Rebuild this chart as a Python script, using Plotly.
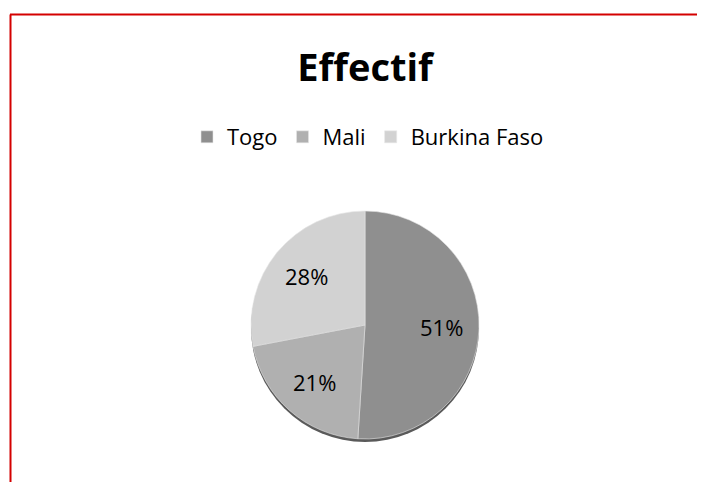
import math
import plotly.graph_objects as go

labels = ["Togo", "Mali", "Burkina Faso"]
values = [51, 21, 28]
colors = ["#8f8f8f", "#b0b0b0", "#d2d2d2"]

OFF = 8  # page body margin
W, H = 705, 482 - OFF
FONT = "Open Sans, Lato, sans-serif"

def px(x):
    return (x - OFF) / W

def py(y):
    return 1 - (y - OFF) / H

cx, cy, r = 365, 325, 114

fig = go.Figure()
# subtle shadow below the pie
fig.add_trace(go.Pie(
    labels=["s"], values=[1], marker=dict(colors=["#5a5a5a"], line=dict(width=0)),
    textinfo="none", hoverinfo="skip", showlegend=False, sort=False,
    domain=dict(x=[px(cx - r), px(cx + r)], y=[py(cy + r + 3), py(cy - r + 3)]),
))
fig.add_trace(go.Pie(
    labels=labels, values=values, sort=False, direction="clockwise", rotation=0,
    marker=dict(colors=colors, line=dict(color="#e6e6e6", width=0.6)),
    textinfo="none", hoverinfo="label+percent",
    domain=dict(x=[px(cx - r), px(cx + r)], y=[py(cy + r), py(cy - r)]),
))

# percentage labels placed at ~0.67 radius along each slice's mid angle
total = sum(values)
annotations = []
cum = 0
for v in values:
    mid = (cum + v / 2) / total * 2 * math.pi
    cum += v
    lx = cx + 0.67 * r * math.sin(mid)
    ly = cy - 0.67 * r * math.cos(mid)
    annotations.append(dict(
        text=f"{round(100 * v / total)}%", x=px(lx), y=py(ly), xref="paper", yref="paper",
        showarrow=False, xanchor="center", yanchor="middle",
        font=dict(family=FONT, size=22, color="#000000"),
    ))

fig.update_layout(
    width=W, height=H, margin=dict(l=0, r=0, t=0, b=0),
    paper_bgcolor="white", plot_bgcolor="white",
    title=dict(text="<b>Effectif</b>", x=px(365), xanchor="center", y=py(68), yanchor="middle",
               font=dict(family=FONT, size=38, color="#000000")),
    legend=dict(orientation="h", x=px(368), xanchor="center", y=py(137), yanchor="middle",
                font=dict(family=FONT, size=22, color="#000000"),
                itemwidth=30, traceorder="normal"),
    annotations=annotations,
    shapes=[
        dict(type="line", xref="paper", yref="paper", x0=px(10), x1=1, y0=py(14.5), y1=py(14.5),
             line=dict(color="#d40000", width=2)),
        dict(type="line", xref="paper", yref="paper", x0=px(10.5), x1=px(10.5), y0=0, y1=py(14.5),
             line=dict(color="#d40000", width=2)),
    ],
)

fig.write_html("out.html")
